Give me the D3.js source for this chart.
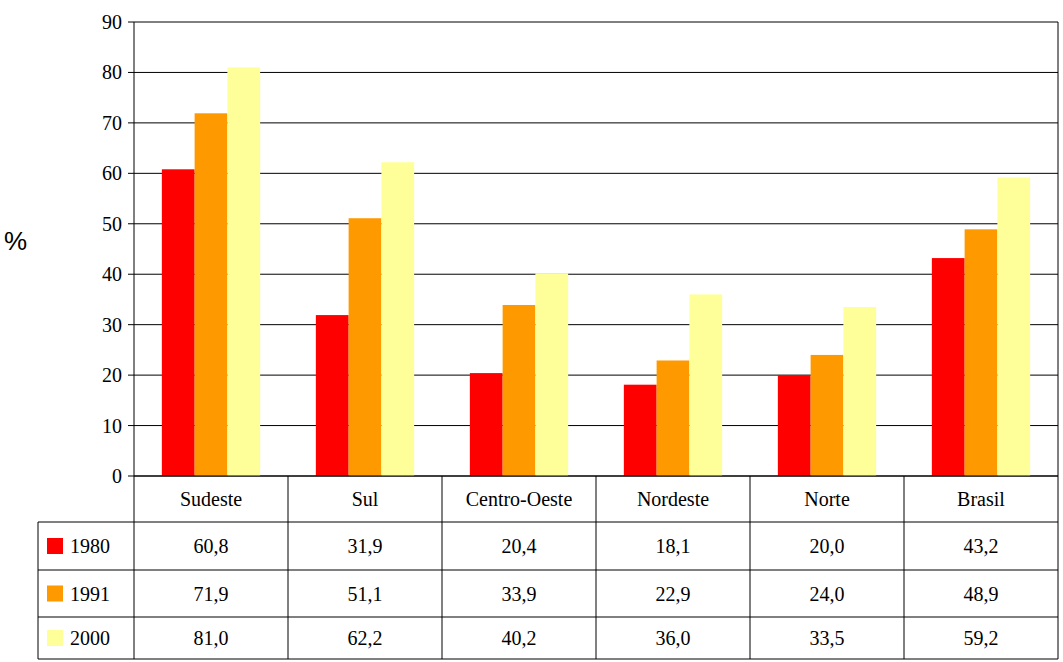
<!DOCTYPE html>
<html><head><meta charset="utf-8">
<script src="https://cdn.jsdelivr.net/npm/d3@7"></script>
<style>body{margin:0;background:#fff}text{font-family:"Liberation Serif","Times New Roman",serif}</style>
</head><body><div class="chart"></div>
<script>
const categories = ["Sudeste", "Sul", "Centro-Oeste", "Nordeste", "Norte", "Brasil"];
const years = ["1980", "1991", "2000"];
const v1980 = [60.8, 31.9, 20.4, 18.1, 20.0, 43.2];
const v1991 = [71.9, 51.1, 33.9, 22.9, 24.0, 48.9];
const v2000 = [81.0, 62.2, 40.2, 36.0, 33.5, 59.2];
const yTicks = [0, 10, 20, 30, 40, 50, 60, 70, 80, 90];

const series = [v1980, v1991, v2000];
const colors = ["#ff0000", "#ff9900", "#ffff99"];
const fmt = v => v.toFixed(1).replace(".", ",");

const plotL = 134, plotR = 1058, plotT = 22, plotB = 476;
const rowH = [476, 522, 570, 617, 659];
const tableLeft = 38;

const svg = d3.select(".chart").append("svg")
    .attr("width", 1063).attr("height", 662);

const x = d3.scaleBand().domain(categories).range([plotL, plotR]);
const inner = d3.scaleBand().domain(years).range([0, x.bandwidth()]).paddingInner(0).paddingOuter(0.85);
const y = d3.scaleLinear().domain([0, 90]).range([plotB, plotT]);

// gridlines
svg.append("g").selectAll("line").data(yTicks).join("line")
    .attr("x1", plotL).attr("x2", plotR)
    .attr("y1", d => y(d)).attr("y2", d => y(d))
    .attr("stroke", "#000").attr("stroke-width", 1);

// bars
series.forEach((vals, i) => {
    svg.append("g").selectAll("rect").data(vals).join("rect")
        .attr("x", (d, j) => x(categories[j]) + inner(years[i]))
        .attr("width", inner.bandwidth())
        .attr("y", d => y(d))
        .attr("height", d => plotB - y(d))
        .attr("fill", colors[i]);
});

// axes lines
svg.append("line").attr("x1", plotL).attr("x2", plotL).attr("y1", plotT).attr("y2", plotB).attr("stroke", "#000");
svg.append("line").attr("x1", plotR).attr("x2", plotR).attr("y1", plotT).attr("y2", plotB).attr("stroke", "#000");
svg.append("g").selectAll("line").data(yTicks).join("line")
    .attr("x1", plotL - 6).attr("x2", plotL)
    .attr("y1", d => y(d)).attr("y2", d => y(d)).attr("stroke", "#000");
svg.append("g").selectAll("text").data(yTicks).join("text")
    .attr("x", plotL - 12).attr("y", d => y(d) + 7)
    .attr("text-anchor", "end").attr("font-size", 20).text(d => d);

svg.append("text").attr("x", 4).attr("y", 250).attr("font-size", 26)
    .style("font-family", "Arial, 'Liberation Sans', sans-serif").text("%");

// table
const t = svg.append("g").attr("stroke", "#000").attr("stroke-width", 1);
rowH.forEach((h, i) => t.append("line")
    .attr("x1", i === 0 ? plotL : tableLeft).attr("x2", plotR).attr("y1", h).attr("y2", h));
t.append("line").attr("x1", tableLeft).attr("x2", tableLeft).attr("y1", rowH[1]).attr("y2", rowH[4]);
categories.forEach(c => t.append("line").attr("x1", x(c)).attr("x2", x(c)).attr("y1", rowH[0]).attr("y2", rowH[4]));
t.append("line").attr("x1", plotR).attr("x2", plotR).attr("y1", rowH[0]).attr("y2", rowH[4]);

svg.append("g").selectAll("text").data(categories).join("text")
    .attr("x", d => x(d) + x.bandwidth() / 2).attr("y", (rowH[0] + rowH[1]) / 2 + 7)
    .attr("text-anchor", "middle").attr("font-size", 20).text(d => d);

series.forEach((vals, i) => {
    const cy = (rowH[i + 1] + rowH[i + 2]) / 2;
    svg.append("rect").attr("x", 47).attr("y", cy - 8).attr("width", 16).attr("height", 16).attr("fill", colors[i]);
    svg.append("text").attr("x", 70).attr("y", cy + 7).attr("font-size", 20).text(years[i]);
    svg.append("g").selectAll("text").data(vals).join("text")
        .attr("x", (d, j) => x(categories[j]) + x.bandwidth() / 2).attr("y", cy + 7)
        .attr("text-anchor", "middle").attr("font-size", 20).text(fmt);
});
</script></body></html>
